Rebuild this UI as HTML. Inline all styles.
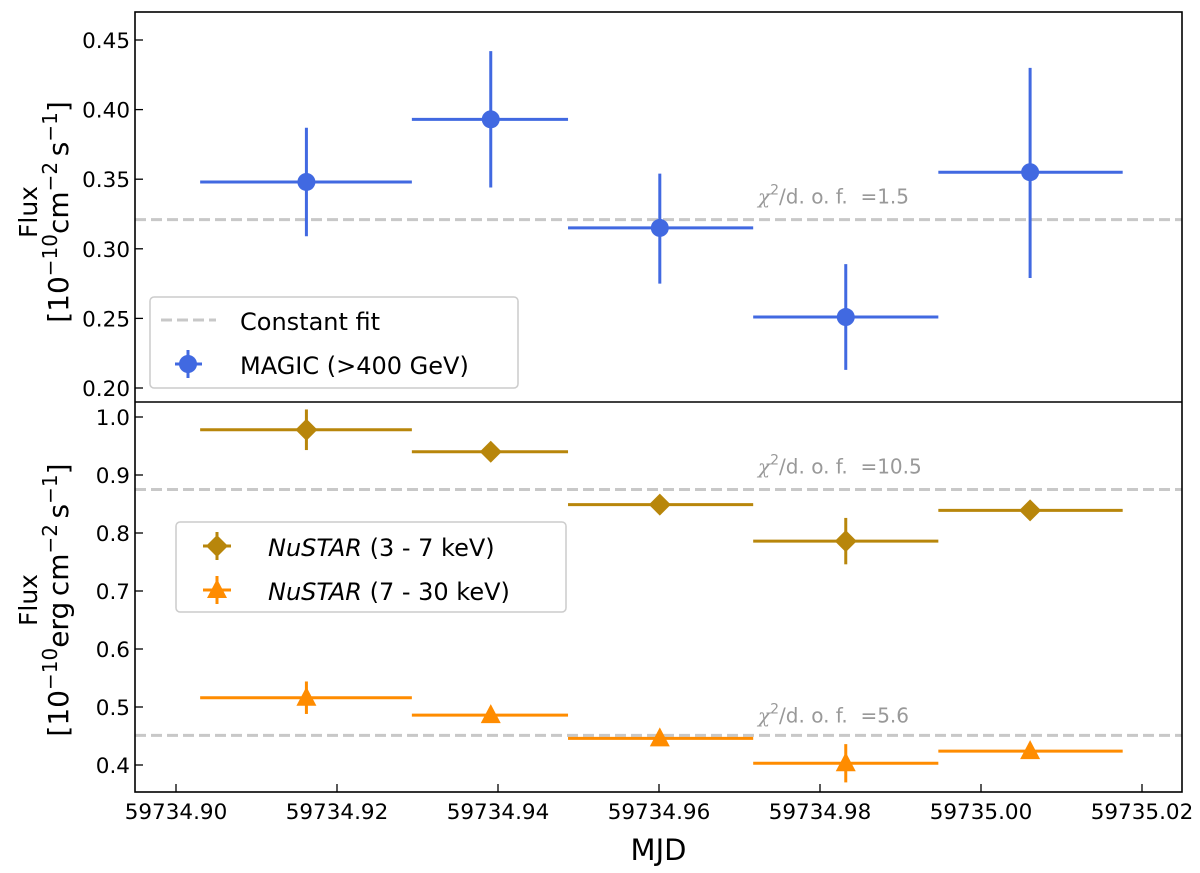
<!DOCTYPE html>
<html><head><meta charset="utf-8"><style>
body{margin:0;background:#fff}
svg{display:block;font-family:"DejaVu Sans","Liberation Sans",sans-serif}
</style></head><body>
<svg id="c" width="1200" height="873" viewBox="0 0 1200 873"></svg>
<script>
const mjdCenters=[59734.9162,59734.9391,59734.9601,59734.9832,59735.0061];
const binEdges=[59734.9030,59734.9293,59734.9487,59734.9717,59734.9947,59735.0176];
const magicFlux=[0.348,0.393,0.315,0.251,0.355];
const magicLo=[0.309,0.344,0.275,0.213,0.279];
const magicHi=[0.387,0.442,0.354,0.289,0.430];
const magicFit=0.321;
const nuLowFlux=[0.978,0.940,0.849,0.786,0.839];
const nuLowErr=[0.035,0.010,0.010,0.040,0.010];
const nuLowFit=0.875;
const nuHighFlux=[0.516,0.486,0.446,0.403,0.424];
const nuHighErr=[0.028,0.010,0.010,0.033,0.010];
const nuHighFit=0.451;
const xTicks=[59734.90,59734.92,59734.94,59734.96,59734.98,59735.00,59735.02];
const xTickLabels=["59734.90","59734.92","59734.94","59734.96","59734.98","59735.00","59735.02"];
const topTicks=[0.20,0.25,0.30,0.35,0.40,0.45];
const topTickLabels=["0.20","0.25","0.30","0.35","0.40","0.45"];
const botTicks=[0.4,0.5,0.6,0.7,0.8,0.9,1.0];
const botTickLabels=["0.4","0.5","0.6","0.7","0.8","0.9","1.0"];

const svg=document.getElementById('c');
const NS='http://www.w3.org/2000/svg';
const L=135,R=1182,T1=12,B1=402,B2=792;
const X=v=>176+(v-59734.90)/0.02*161;
const Y1=v=>388+(0.20-v)/0.05*69.6;
const Y2=v=>765+(0.4-v)/0.1*58;
function el(tag,attrs,parent){const e=document.createElementNS(NS,tag);for(const k in attrs)e.setAttribute(k,attrs[k]);(parent||svg).appendChild(e);return e;}
function txt(s,attrs,parent){const e=el('text',attrs,parent);e.innerHTML=s;return e;}

let g=el('g',{});


[Y1(magicFit),Y2(nuLowFit),Y2(nuHighFit)].forEach(y=>{
  el('line',{x1:L,x2:R,y1:y,y2:y,stroke:'#c8c8c8','stroke-width':3,'stroke-dasharray':'11,5'},g);
});
[[Y1(magicFit)-16,'1.5'],[Y2(nuLowFit)-16,'10.5'],[Y2(nuHighFit)-13,'5.6']].forEach(([y,v])=>{
  const t=txt('<tspan font-family="DejaVu Serif" font-style="italic">χ</tspan><tspan font-size="14" dy="-9">2</tspan><tspan dy="9">/d. o. f. &#160;=' + v + '</tspan>',{x:758,y:y,fill:'#999','font-size':20});
  
  
});

function series(vals,lo,hi,Y,color,marker,name){
  const sg=el('g',{});
  
  
  vals.forEach((v,i)=>{
    const cx=X(mjdCenters[i]),cy=Y(v);
    el('line',{x1:X(binEdges[i]),x2:X(binEdges[i+1]),y1:cy,y2:cy,stroke:color,'stroke-width':3},sg);
    el('line',{x1:cx,x2:cx,y1:Y(hi[i]),y2:Y(lo[i]),stroke:color,'stroke-width':3},sg);
    let m;
    if(marker==='o')m=el('circle',{cx:cx,cy:cy,r:9,fill:color},sg);
    else if(marker==='d')m=el('polygon',{points:`${cx},${cy-11} ${cx+11},${cy} ${cx},${cy+11} ${cx-11},${cy}`,fill:color},sg);
    else m=el('polygon',{points:`${cx},${cy-11} ${cx+10},${cy+8} ${cx-10},${cy+8}`,fill:color},sg);
    
    
  });
}
series(magicFlux,magicLo,magicHi,Y1,'#4169e1','o','magic-series');
series(nuLowFlux,nuLowFlux.map((v,i)=>v-nuLowErr[i]),nuLowFlux.map((v,i)=>v+nuLowErr[i]),Y2,'#b8860b','d','nustar-3-7-series');
series(nuHighFlux,nuHighFlux.map((v,i)=>v-nuHighErr[i]),nuHighFlux.map((v,i)=>v+nuHighErr[i]),Y2,'#ff8c00','t','nustar-7-30-series');

el('rect',{x:L,y:T1,width:R-L,height:B2-T1,fill:'none',stroke:'#000','stroke-width':1.6});
el('line',{x1:L,x2:R,y1:B1,y2:B1,stroke:'#000','stroke-width':1.6});

const ax=el('g',{});


xTicks.forEach((v,i)=>{
  const x=X(v);
  el('line',{x1:x,x2:x,y1:B2,y2:B2-8,stroke:'#000','stroke-width':1.3},ax);
  txt(xTickLabels[i],{x:x,y:B2+27,'text-anchor':'middle','font-size':21.5},ax);
});
topTicks.forEach((v,i)=>{
  const y=Y1(v);
  el('line',{x1:L,x2:L+8,y1:y,y2:y,stroke:'#000','stroke-width':1.3},ax);
  txt(topTickLabels[i],{x:L-5,y:y+8,'text-anchor':'end','font-size':21.5},ax);
});
botTicks.forEach((v,i)=>{
  const y=Y2(v);
  el('line',{x1:L,x2:L+8,y1:y,y2:y,stroke:'#000','stroke-width':1.3},ax);
  txt(botTickLabels[i],{x:L-5,y:y+8,'text-anchor':'end','font-size':21.5},ax);
});
let t=txt('MJD',{x:(L+R)/2,y:860,'text-anchor':'middle','font-size':29});


function yTitle(unit,cy,name){
  const tg=el('g',{transform:`translate(0,${cy}) rotate(-90)`});
  
  
  txt('Flux',{x:0,y:37,'text-anchor':'middle','font-size':25},tg);
  txt('[10<tspan font-size="20" dy="-11">−10</tspan><tspan dy="11">'+unit+'</tspan>',{x:0,y:68,'text-anchor':'middle','font-size':28},tg);
}
yTitle('erg&#8201;cm<tspan font-size="20" dy="-11">−2</tspan><tspan dy="11">&#8201;s</tspan><tspan font-size="20" dy="-11">−1</tspan><tspan dy="11">]</tspan>',600,'bottom-y-axis-title');
yTitle('cm<tspan font-size="20" dy="-11">−2</tspan><tspan dy="11">&#8201;s</tspan><tspan font-size="20" dy="-11">−1</tspan><tspan dy="11">]</tspan>',212,'top-y-axis-title');

let lg=el('g',{});

el('rect',{x:150,y:297,width:368,height:91,rx:4,fill:'#fff','fill-opacity':0.85,stroke:'#ccc','stroke-width':1.5},lg);
el('line',{x1:161,x2:216,y1:320,y2:320,stroke:'#c8c8c8','stroke-width':3,'stroke-dasharray':'11,5'},lg);
txt('Constant fit',{x:240,y:330,'font-size':24},lg);
el('line',{x1:175,x2:202,y1:364,y2:364,stroke:'#4169e1','stroke-width':3},lg);
el('line',{x1:188,x2:188,y1:350,y2:378,stroke:'#4169e1','stroke-width':3},lg);
el('circle',{cx:188,cy:364,r:9,fill:'#4169e1'},lg);
txt('MAGIC (&gt;400 GeV)',{x:240,y:374,'font-size':24},lg);

lg=el('g',{});

el('rect',{x:176,y:522,width:390,height:90,rx:4,fill:'#fff','fill-opacity':0.85,stroke:'#ccc','stroke-width':1.5},lg);
el('line',{x1:203,x2:231,y1:546,y2:546,stroke:'#b8860b','stroke-width':3},lg);
el('line',{x1:217,x2:217,y1:532,y2:560,stroke:'#b8860b','stroke-width':3},lg);
el('polygon',{points:'217,535 228,546 217,557 206,546',fill:'#b8860b'},lg);
txt('<tspan font-style="italic">NuSTAR</tspan> (3 - 7 keV)',{x:268,y:556,'font-size':24},lg);
el('line',{x1:203,x2:231,y1:590,y2:590,stroke:'#ff8c00','stroke-width':3},lg);
el('line',{x1:217,x2:217,y1:576,y2:604,stroke:'#ff8c00','stroke-width':3},lg);
el('polygon',{points:'217,579 227,598 207,598',fill:'#ff8c00'},lg);
txt('<tspan font-style="italic">NuSTAR</tspan> (7 - 30 keV)',{x:268,y:600,'font-size':24},lg);
</script>
</body></html>
